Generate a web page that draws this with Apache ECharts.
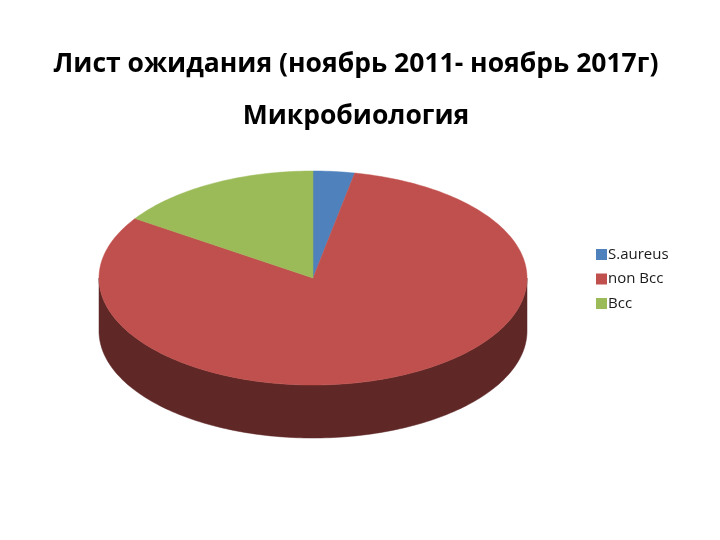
<!DOCTYPE html>
<html><head><meta charset="utf-8">
<script src="https://cdn.jsdelivr.net/npm/echarts@6/dist/echarts.min.js"></script>
<style>html,body{margin:0;padding:0;background:#fff}#c{width:720px;height:540px}</style>
</head><body><div id="c"></div>
<script>
const categories = ['S.aureus', 'non Bcc', 'Bcc'];
const values = [1, 26, 5];
const topColors = ['#4F81BD', '#C0504D', '#9BBB59'];
const sideColors = ['#2A4566', '#5F2726', '#526430'];

const chart = echarts.init(document.getElementById('c'));
const total = values.reduce((a, b) => a + b, 0);
const cum = [];
values.reduce((a, v, i) => { cum[i] = a; return a + v; }, 0);

function renderItem(i, api) {
  const cx = 313, cy = 278, rx = 214, ry = 107, depth = 53;
  const a0 = cum[i] / total * Math.PI * 2;
  const a1 = (cum[i] + api.value(0)) / total * Math.PI * 2;
  const pt = (t, d) => [cx + rx * Math.sin(t), cy - ry * Math.cos(t) + (d || 0)];
  const n = Math.max(4, Math.ceil((a1 - a0) / 0.02));
  const top = [[cx, cy]];
  for (let k = 0; k <= n; k++) top.push(pt(a0 + (a1 - a0) * k / n));
  const children = [];
  const s0 = Math.max(a0, Math.PI / 2), s1 = Math.min(a1, Math.PI * 1.5);
  if (s1 > s0) {
    const m = Math.max(4, Math.ceil((s1 - s0) / 0.02));
    const up = [], down = [];
    for (let k = 0; k <= m; k++) {
      const t = s0 + (s1 - s0) * k / m;
      up.push(pt(t));
      down.push(pt(t, depth));
    }
    children.push({ type: 'polygon', shape: { points: up.concat(down.reverse()) },
      style: { fill: sideColors[i], stroke: sideColors[i], lineWidth: 0.5 } });
  }
  children.push({ type: 'polygon', shape: { points: top },
    style: { fill: topColors[i], stroke: topColors[i], lineWidth: 0.5 } });
  return { type: 'group', children: children };
}

chart.setOption({
  animation: false,
  title: [
    { text: 'Лист ожидания (ноябрь 2011- ноябрь 2017г)', left: 351, top: 46, textAlign: 'center',
      textStyle: { fontFamily: 'Open Sans', fontWeight: 'bold', fontSize: 26.5, color: '#000' } },
    { text: 'Микробиология', left: 351, top: 98, textAlign: 'center',
      textStyle: { fontFamily: 'Open Sans', fontWeight: 'bold', fontSize: 26.5, color: '#000' } }
  ],
  legend: {
    orient: 'vertical', left: 596, top: 247, padding: 0, itemWidth: 11, itemHeight: 11, itemGap: 9.5,
    icon: 'rect',
    textStyle: { fontFamily: 'Open Sans', fontSize: 15, color: '#1a1a1a', padding: [0, 0, 0, -4] },
    data: categories.map((c, i) => ({ name: c, itemStyle: { color: topColors[i] } }))
  },
  series: categories.map((c, i) => ({
    type: 'custom', name: c, coordinateSystem: 'none',
    renderItem: (p, api) => renderItem(i, api),
    itemStyle: { color: topColors[i] },
    data: [[values[i]]]
  }))
});
</script></body></html>
